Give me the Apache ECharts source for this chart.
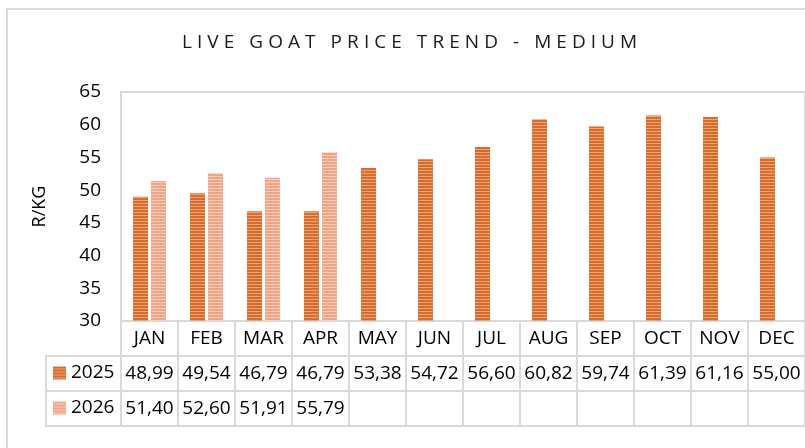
<!DOCTYPE html>
<html>
<head>
<meta charset="utf-8">
<script src="https://cdn.jsdelivr.net/npm/echarts@6/dist/echarts.min.js"></script>
<style>
  html, body { margin: 0; padding: 0; background: #fff; }
  #chart { width: 805px; height: 448px; }
</style>
</head>
<body>
<div id="chart"></div>
<script>
var months = ['JAN', 'FEB', 'MAR', 'APR', 'MAY', 'JUN', 'JUL', 'AUG', 'SEP', 'OCT', 'NOV', 'DEC'];
var price2025 = [48.99, 49.54, 46.79, 46.79, 53.38, 54.72, 56.60, 60.82, 59.74, 61.39, 61.16, 55.00];
var price2026 = [51.40, 52.60, 51.91, 55.79, null, null, null, null, null, null, null, null];
var seriesNames = ['2025', '2026'];
var yMin = 30, yMax = 65, yStep = 5;
var titleText = 'LIVE GOAT PRICE TREND - MEDIUM';

(function() {
  var font = '"Open Sans", sans-serif';
  var rule = '#d9d9d9';
  var ink = '#000';

  // striped fill like the Excel "narrow horizontal" pattern
  function stripes(dark, light) {
    var c = document.createElement('canvas');
    c.width = 4; c.height = 3;
    var ctx = c.getContext('2d');
    ctx.fillStyle = light; ctx.fillRect(0, 0, 4, 3);
    ctx.fillStyle = dark; ctx.fillRect(0, 0, 4, 2);
    return { image: c, repeat: 'repeat' };
  }
  function fmt(v) {
    return v == null ? '' : v.toFixed(2).replace('.', ',');
  }
  // spread the title letters out
  var spaced = titleText.split('').join('\u2009\u200A');

  // one axis per data-table row, pushed down by offset
  var rowAxis = function(offset, values, first) {
    return {
      type: 'category',
      data: months,
      position: 'bottom',
      offset: offset,
      axisLine: { show: true, lineStyle: { color: rule, width: 2 } },
      axisTick: { show: !!values, interval: 0, length: 35, lineStyle: { color: rule, width: 2 } },
      axisLabel: {
        show: !!values,
        interval: 0,
        margin: 8, lineHeight: 20,
        fontSize: 19, color: ink, fontFamily: font,
        formatter: function(v, i) {
          if (!values) return '';
          return first ? v : fmt(values[i]);
        }
      }
    };
  };

  var chart = echarts.init(document.getElementById('chart'));
  chart.setOption({
    animation: false,
    title: {
      text: spaced,
      left: 182, top: 33, padding: 0,
      textStyle: { fontFamily: font, fontSize: 19, fontWeight: 'normal', color: '#1a1a1a' }
    },
    legend: {
      data: seriesNames,
      orient: 'vertical',
      left: 53, top: 362, padding: 0,
      itemWidth: 13, itemHeight: 13, itemGap: 13,
      icon: 'rect',
      selectedMode: false,
      textStyle: { fontFamily: font, fontSize: 19, lineHeight: 22, color: ink }
    },
    grid: {
      left: 121, top: 92, width: 685, height: 229,
      show: true, borderColor: rule, borderWidth: 2
    },
    xAxis: [
      rowAxis(0, months, true),
      rowAxis(35, price2025),
      rowAxis(70, price2026),
      rowAxis(105, null)
    ],
    yAxis: {
      type: 'value',
      min: yMin, max: yMax, interval: yStep,
      name: 'R/KG',
      nameLocation: 'middle',
      nameRotate: 90,
      nameGap: 72,
      nameTextStyle: { fontFamily: font, fontSize: 18, color: ink },
      axisLine: { show: false },
      axisTick: { show: false },
      splitLine: { show: false },
      axisLabel: { margin: 20, fontSize: 19, color: ink, fontFamily: font }
    },
    series: [
      {
        name: seriesNames[0],
        type: 'bar',
        data: price2025,
        barWidth: 15,
        barGap: '20%',
        itemStyle: { color: stripes('#d96b2b', '#eda679') }
      },
      {
        name: seriesNames[1],
        type: 'bar',
        data: price2026,
        barWidth: 15,
        itemStyle: { color: stripes('#f3a283', '#f9d1bf') }
      }
    ],
    graphic: [
      { type: 'rect', silent: true, shape: { x: 7, y: 9, width: 900, height: 500 },
        style: { fill: 'none', stroke: rule, lineWidth: 2 } },
      { type: 'rect', silent: true, shape: { x: 46, y: 356, width: 75, height: 70 },
        style: { fill: 'none', stroke: rule, lineWidth: 2 } },
      { type: 'line', silent: true, shape: { x1: 46, y1: 391, x2: 121, y2: 391 },
        style: { stroke: rule, lineWidth: 2 } }
    ]
  });
  window.addEventListener('resize', function() { chart.resize(); });
})();
</script>
</body>
</html>
